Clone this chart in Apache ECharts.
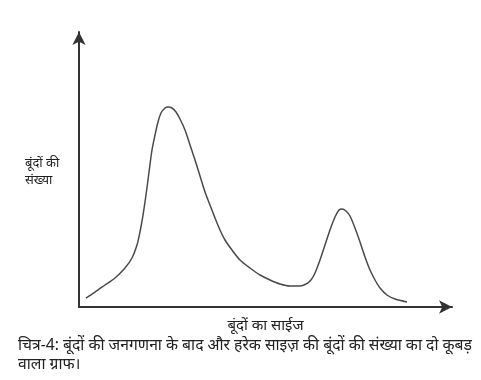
<!DOCTYPE html>
<html>
<head>
<meta charset="utf-8">
<script src="https://cdn.jsdelivr.net/npm/echarts@6/dist/echarts.min.js"></script>
<style>html,body{margin:0;padding:0;background:#fff;}#c{width:481px;height:380px;}</style>
</head>
<body>
<div id="c"></div>
<script>
// droplet size (relative units) and number of droplets (relative units)
const dropSize = [1.88, 4.29, 6.97, 9.65, 12.33, 14.21, 15.55, 16.35, 17.16, 17.96, 18.77, 19.57, 20.38, 21.18, 21.98, 23.06, 23.86, 24.93, 26.01, 27.08, 28.42, 29.76, 31.10, 32.44, 33.78, 35.12, 36.46, 37.80, 39.14, 41.02, 43.16, 45.84, 48.53, 51.21, 53.89, 56.57, 59.25, 60.86, 62.20, 63.27, 64.61, 65.95, 67.29, 68.63, 69.71, 70.51, 71.58, 72.65, 73.99, 75.34, 76.68, 78.02, 79.36, 80.70, 82.57, 84.72, 87.94];
const dropCount = [3.27, 5.45, 8.0, 10.55, 14.18, 17.82, 22.55, 27.27, 33.45, 40.73, 49.09, 57.09, 62.55, 67.27, 70.55, 72.36, 72.73, 72.36, 70.91, 68.36, 64.36, 58.91, 53.45, 47.64, 41.82, 37.09, 32.36, 28.0, 24.36, 20.73, 17.09, 14.18, 11.64, 9.82, 8.36, 7.64, 7.64, 8.36, 9.82, 12.36, 17.09, 22.55, 28.0, 32.73, 35.27, 35.64, 34.91, 33.09, 28.73, 23.64, 18.18, 13.45, 9.82, 6.91, 4.36, 2.91, 1.82];
const xTitle = 'बूंदों का साईज';
const yTitle = ['बूंदों की', 'संख्या'];
const caption = ['चित्र-4: बूंदों की जनगणना के बाद और हरेक साइज़ की बूंदों की संख्या का दो कूबड़', 'वाला ग्राफ।'];

const font = "'Noto Sans', 'DejaVu Sans', sans-serif";
const chart = echarts.init(document.getElementById('c'), null, {renderer: 'canvas'});
const axisLine = {
  show: true,
  symbol: ['none', 'arrow'],
  symbolSize: [10, 13],
  lineStyle: {color: '#333', width: 2}
};
chart.setOption({
  animation: false,
  backgroundColor: '#fff',
  grid: {left: 79, top: 32, width: 373, height: 275},
  xAxis: {
    type: 'value', min: 0, max: 100,
    axisLine: axisLine, axisTick: {show: false}, axisLabel: {show: false}, splitLine: {show: false},
    name: xTitle, nameLocation: 'middle', nameGap: 11,
    nameTextStyle: {fontFamily: font, fontSize: 15, color: '#222'}
  },
  yAxis: {
    type: 'value', min: 0, max: 100,
    axisLine: axisLine, axisTick: {show: false}, axisLabel: {show: false}, splitLine: {show: false}
  },
  series: [{
    type: 'line',
    data: dropSize.map((x, i) => [x, dropCount[i]]),
    smooth: 0.3,
    showSymbol: false,
    lineStyle: {color: '#4a4a4a', width: 1.5}
  }],
  graphic: [
    {type: 'text', left: 25, top: 155, style: {text: yTitle.join('\n'), font: '13px ' + font, fill: '#222', lineHeight: 17}},
    {type: 'text', left: 18, top: 336, style: {text: caption.join('\n'), font: '15.7px ' + font, fill: '#222', lineHeight: 19}}
  ]
});
</script>
</body>
</html>
